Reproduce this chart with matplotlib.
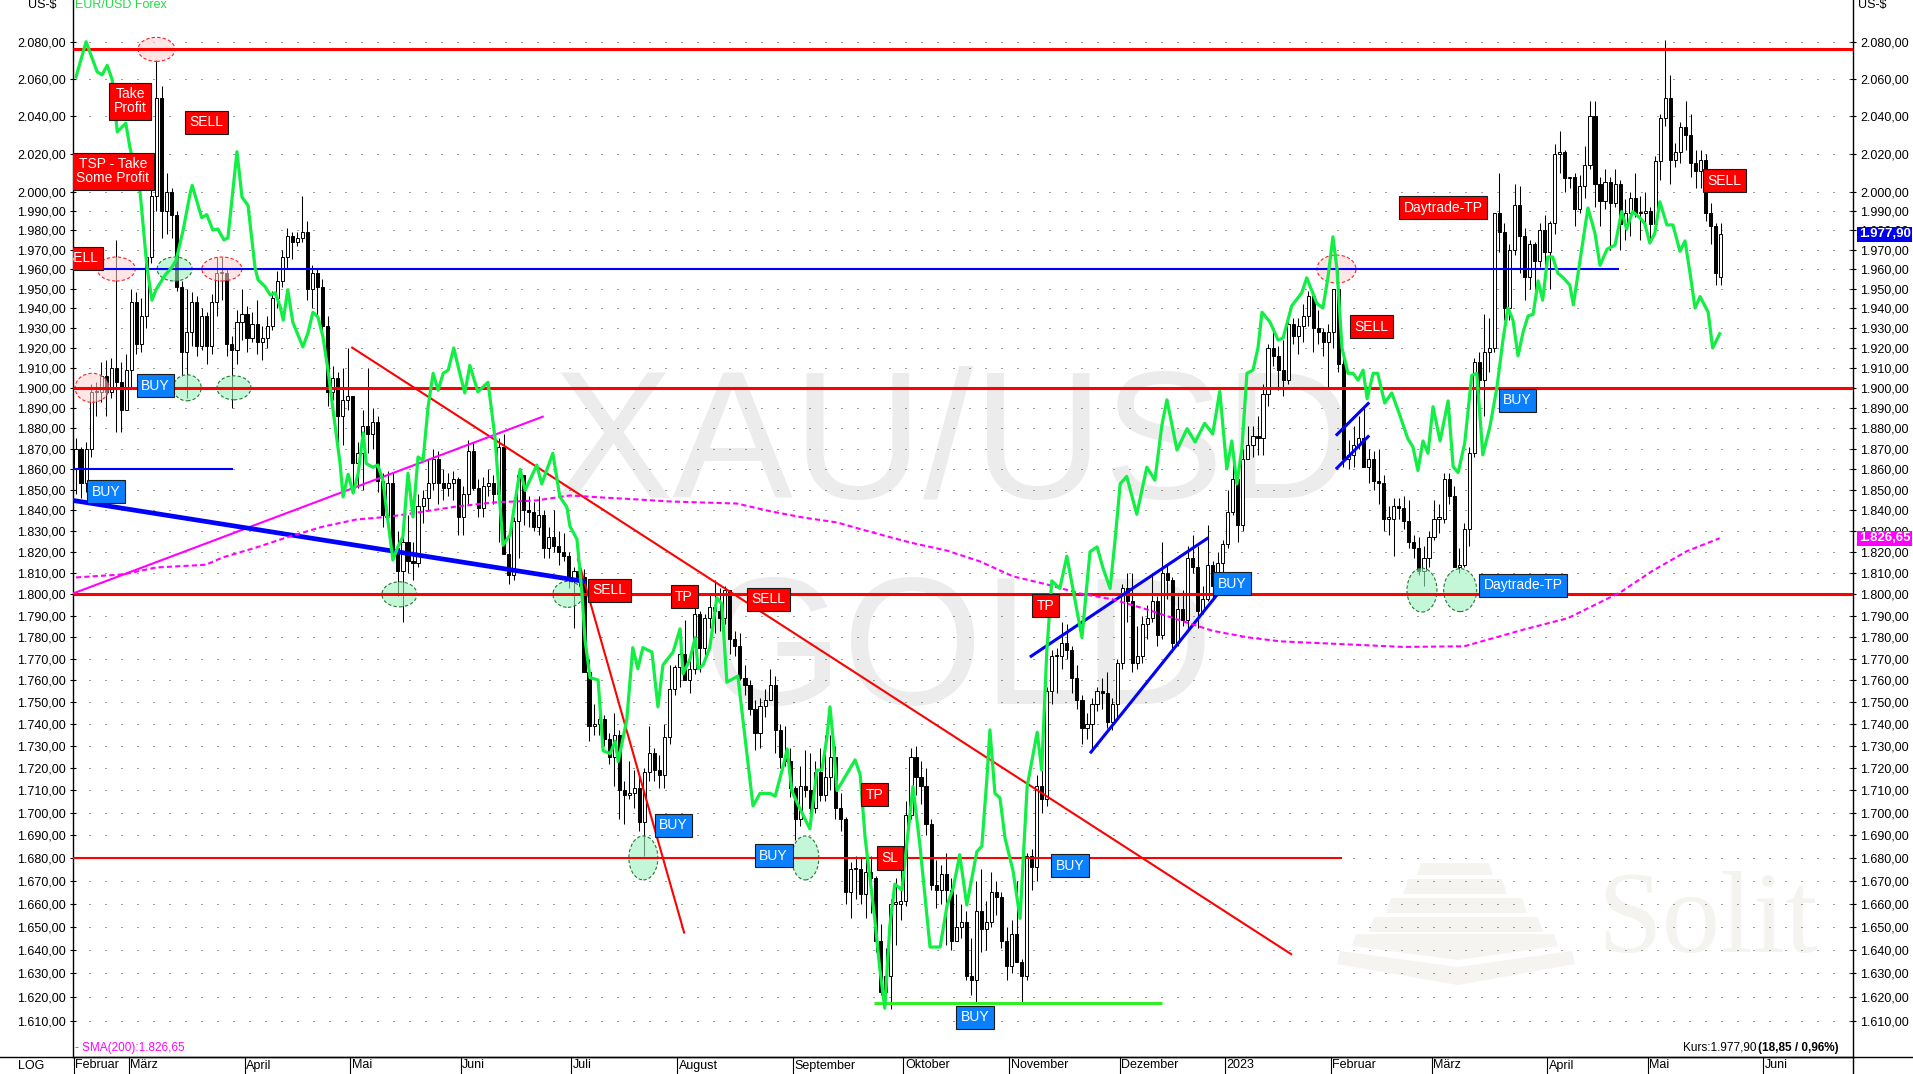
import matplotlib
matplotlib.use("Agg")
import matplotlib.pyplot as plt
import pandas as pd
from matplotlib.patches import Ellipse, Polygon
from matplotlib.lines import Line2D
from matplotlib.transforms import ScaledTranslation, blended_transform_factory

plt.rcParams['font.family'] = ['Liberation Sans', 'DejaVu Sans']

# --- gold daily OHLC, 14 Feb 2022 .. 19 May 2023 (one row per month) ---
gold_open = [
    1860, 1870, 1853, 1870, 1898, 1898, 1906, 1898, 1910, 1903, 1889,
    1909, 1943, 1922, 1936, 1966, 1998, 2050, 1990, 2000, 1988, 1951, 1918, 1928, 1943, 1921, 1936, 1921, 1943, 1958, 1958, 1922, 1919, 1933,
    1937, 1925, 1932, 1923, 1925, 1931, 1945, 1954, 1966, 1977, 1974, 1976, 1979, 1950, 1958, 1951, 1931, 1898, 1905, 1886, 1894,
    1896, 1863, 1868, 1881, 1877, 1883, 1854, 1838, 1853, 1822, 1811, 1825, 1816, 1815, 1842, 1846, 1853, 1865, 1853, 1851, 1853, 1855,
    1837, 1848, 1869, 1851, 1841, 1852, 1853, 1848, 1871, 1819, 1809, 1835, 1857, 1840, 1839, 1832, 1838, 1822, 1827, 1823, 1820, 1818,
    1807, 1811, 1808, 1764, 1739, 1740, 1742, 1733, 1725, 1735, 1710, 1708, 1709, 1711, 1696, 1718, 1727, 1719, 1717, 1734, 1756,
    1766, 1772, 1760, 1765, 1791, 1775, 1789, 1794, 1792, 1789, 1802, 1779, 1776, 1761, 1758, 1747, 1736, 1748, 1751, 1758, 1737, 1725, 1723,
    1711, 1697, 1712, 1710, 1702, 1718, 1708, 1716, 1725, 1702, 1697, 1665, 1675, 1675, 1664, 1674, 1671, 1644, 1622, 1629, 1660, 1660,
    1661, 1699, 1725, 1716, 1712, 1695, 1668, 1666, 1673, 1666, 1644, 1650, 1652, 1629, 1627, 1657, 1649, 1652, 1665, 1663, 1644,
    1633, 1647, 1635, 1629, 1681, 1676, 1712, 1706, 1755, 1771, 1771, 1777, 1774, 1761, 1751, 1738, 1740, 1749, 1755, 1754, 1741, 1749,
    1768, 1803, 1797, 1768, 1771, 1786, 1789, 1797, 1781, 1810, 1807, 1777, 1793, 1788, 1817, 1813, 1792, 1798, 1814, 1804, 1815,
    1824, 1839, 1855, 1833, 1865, 1872, 1876, 1875, 1897, 1920, 1916, 1909, 1904, 1932, 1926, 1931, 1936, 1946, 1930, 1928, 1923,
    1928, 1950, 1912, 1865, 1867, 1872, 1875, 1861, 1865, 1854, 1853, 1836, 1836, 1842, 1841, 1835, 1825, 1822, 1811, 1817,
    1827, 1836, 1836, 1855, 1847, 1813, 1814, 1831, 1868, 1913, 1904, 1918, 1920, 1989, 1979, 1940, 1970, 1993, 1977, 1956, 1973, 1964, 1980,
    1969, 1984, 2020, 2021, 2007, 2008, 1991, 2003, 2014, 2040, 2004, 1995, 2005, 1994, 2004, 1983, 1989, 1997, 1989, 1989,
    1990, 1983, 2016, 2039, 2050, 2017, 2021, 2034, 2030, 2015, 2011, 2017, 1989, 1982, 1956,
]
gold_high = [
    1875, 1871, 1873, 1902, 1903, 1913, 1914, 1915, 1975, 1913, 1917,
    1950, 1948, 1945, 1970, 2001, 2070, 2056, 2010, 2002, 1990, 1954, 1950, 1948, 1946, 1940, 1938, 1947, 1966, 1966, 1960, 1926, 1939, 1950,
    1941, 1938, 1944, 1931, 1936, 1949, 1959, 1970, 1981, 1979, 1979, 1998, 1985, 1962, 1960, 1955, 1936, 1911, 1908, 1910, 1920,
    1896, 1873, 1889, 1910, 1890, 1886, 1858, 1859, 1858, 1830, 1828, 1838, 1825, 1848, 1850, 1865, 1870, 1869, 1860, 1858, 1859, 1856,
    1852, 1874, 1873, 1855, 1856, 1860, 1857, 1875, 1877, 1830, 1837, 1857, 1857, 1847, 1844, 1847, 1840, 1832, 1840, 1830, 1829, 1820,
    1813, 1815, 1812, 1770, 1749, 1752, 1744, 1736, 1745, 1737, 1714, 1723, 1719, 1716, 1720, 1739, 1729, 1726, 1740, 1767, 1767,
    1774, 1788, 1769, 1795, 1792, 1791, 1800, 1807, 1803, 1804, 1802, 1783, 1782, 1767, 1760, 1751, 1752, 1756, 1765, 1762, 1740, 1739, 1729,
    1712, 1721, 1728, 1727, 1723, 1729, 1735, 1735, 1730, 1709, 1698, 1678, 1681, 1680, 1688, 1681, 1672, 1651, 1641, 1662, 1671, 1676,
    1705, 1729, 1730, 1723, 1720, 1697, 1679, 1677, 1682, 1671, 1664, 1660, 1657, 1645, 1670, 1675, 1661, 1674, 1670, 1665, 1650,
    1653, 1670, 1636, 1682, 1684, 1717, 1722, 1757, 1774, 1775, 1787, 1786, 1776, 1767, 1753, 1745, 1752, 1757, 1761, 1764, 1752, 1770,
    1805, 1810, 1810, 1785, 1790, 1795, 1810, 1799, 1825, 1814, 1808, 1799, 1802, 1823, 1828, 1823, 1804, 1833, 1816, 1820, 1826,
    1850, 1865, 1859, 1870, 1881, 1881, 1886, 1902, 1922, 1929, 1921, 1924, 1935, 1935, 1935, 1942, 1949, 1949, 1939, 1930, 1932,
    1950, 1960, 1918, 1874, 1881, 1886, 1890, 1870, 1869, 1870, 1857, 1842, 1846, 1846, 1847, 1845, 1828, 1827, 1823, 1830,
    1845, 1843, 1858, 1858, 1852, 1822, 1834, 1871, 1915, 1918, 1937, 1935, 1989, 2010, 1984, 1973, 2004, 2003, 1981, 1975, 1974, 1984, 1988,
    1985, 2025, 2032, 2022, 2008, 2010, 2009, 2024, 2048, 2048, 2008, 2012, 2008, 2012, 2006, 1996, 2000, 2010, 1998, 2000,
    1992, 2019, 2041, 2081, 2062, 2026, 2037, 2048, 2041, 2022, 2022, 2020, 1994, 1984, 1984,
]
gold_low = [
    1848, 1846, 1849, 1866, 1886, 1893, 1886, 1895, 1878, 1878, 1889,
    1900, 1917, 1918, 1930, 1963, 1990, 1976, 1978, 1976, 1949, 1906, 1895, 1921, 1916, 1919, 1912, 1917, 1936, 1944, 1916, 1890, 1912, 1924,
    1918, 1923, 1917, 1914, 1920, 1929, 1940, 1951, 1960, 1965, 1972, 1974, 1944, 1940, 1935, 1929, 1891, 1894, 1872, 1872, 1889,
    1850, 1851, 1850, 1868, 1870, 1849, 1832, 1836, 1821, 1799, 1787, 1810, 1807, 1813, 1834, 1840, 1850, 1843, 1845, 1847, 1845, 1828,
    1828, 1843, 1850, 1837, 1837, 1847, 1843, 1825, 1821, 1805, 1807, 1817, 1833, 1832, 1830, 1828, 1817, 1817, 1820, 1814, 1816, 1803,
    1784, 1804, 1764, 1732, 1735, 1735, 1730, 1722, 1712, 1697, 1695, 1706, 1702, 1692, 1681, 1714, 1714, 1711, 1711, 1731, 1753,
    1757, 1760, 1754, 1763, 1764, 1770, 1784, 1782, 1783, 1786, 1772, 1771, 1760, 1753, 1744, 1728, 1729, 1743, 1751, 1727, 1720, 1721, 1707,
    1688, 1694, 1707, 1698, 1700, 1705, 1705, 1710, 1697, 1692, 1660, 1654, 1662, 1660, 1654, 1656, 1639, 1621, 1620, 1615, 1642, 1653,
    1659, 1697, 1708, 1704, 1690, 1666, 1658, 1660, 1642, 1640, 1644, 1645, 1627, 1621, 1617, 1639, 1640, 1650, 1655, 1641, 1627,
    1630, 1635, 1617, 1627, 1666, 1670, 1700, 1703, 1749, 1754, 1765, 1770, 1754, 1747, 1731, 1733, 1729, 1746, 1747, 1738, 1737, 1742,
    1765, 1787, 1764, 1765, 1768, 1779, 1787, 1776, 1779, 1798, 1773, 1776, 1785, 1783, 1810, 1784, 1791, 1797, 1798, 1803, 1808,
    1822, 1838, 1825, 1830, 1865, 1866, 1867, 1867, 1891, 1911, 1899, 1896, 1902, 1922, 1917, 1923, 1931, 1918, 1922, 1916, 1900,
    1920, 1908, 1861, 1860, 1861, 1870, 1861, 1853, 1850, 1843, 1830, 1828, 1818, 1836, 1831, 1822, 1817, 1809, 1804, 1813,
    1826, 1829, 1834, 1843, 1813, 1810, 1813, 1823, 1866, 1896, 1886, 1908, 1918, 1969, 1934, 1934, 1967, 1958, 1944, 1950, 1949, 1961, 1959,
    1950, 1978, 2010, 2000, 2002, 1982, 1989, 1997, 2012, 1992, 1982, 1991, 1970, 1992, 1970, 1975, 1977, 1987, 1975, 1983,
    1975, 1979, 2006, 2035, 2004, 2013, 2015, 2022, 2008, 2002, 2002, 1985, 1973, 1952, 1952,
]
gold_close = [
    1870, 1853, 1870, 1898, 1898, 1906, 1898, 1910, 1903, 1889, 1909,
    1943, 1922, 1936, 1966, 1998, 2050, 1990, 2000, 1988, 1951, 1918, 1928, 1943, 1921, 1936, 1921, 1943, 1958, 1958, 1922, 1919, 1933, 1937,
    1925, 1932, 1923, 1925, 1931, 1945, 1954, 1966, 1977, 1974, 1976, 1979, 1950, 1958, 1951, 1931, 1898, 1905, 1886, 1894, 1896,
    1863, 1868, 1881, 1877, 1883, 1854, 1838, 1853, 1822, 1811, 1825, 1816, 1815, 1842, 1846, 1853, 1865, 1853, 1851, 1853, 1855, 1837,
    1848, 1869, 1851, 1841, 1852, 1853, 1848, 1871, 1819, 1809, 1835, 1857, 1840, 1839, 1832, 1838, 1822, 1827, 1823, 1820, 1818, 1807,
    1811, 1808, 1764, 1739, 1740, 1742, 1733, 1725, 1735, 1710, 1708, 1709, 1711, 1696, 1718, 1727, 1719, 1717, 1734, 1756, 1766,
    1772, 1760, 1765, 1791, 1775, 1789, 1794, 1792, 1789, 1802, 1779, 1776, 1761, 1758, 1747, 1736, 1748, 1751, 1758, 1737, 1725, 1723, 1711,
    1697, 1712, 1710, 1702, 1718, 1708, 1716, 1725, 1702, 1697, 1665, 1675, 1675, 1664, 1674, 1671, 1644, 1622, 1629, 1660, 1660, 1661,
    1699, 1725, 1716, 1712, 1695, 1668, 1666, 1673, 1666, 1644, 1650, 1652, 1629, 1627, 1657, 1649, 1652, 1665, 1663, 1644, 1633,
    1647, 1635, 1629, 1681, 1676, 1712, 1706, 1755, 1771, 1771, 1777, 1774, 1761, 1751, 1738, 1740, 1749, 1755, 1754, 1741, 1749, 1768,
    1803, 1797, 1768, 1771, 1786, 1789, 1797, 1781, 1810, 1807, 1777, 1793, 1788, 1817, 1813, 1792, 1798, 1814, 1804, 1815, 1824,
    1839, 1855, 1833, 1865, 1872, 1876, 1875, 1897, 1920, 1916, 1909, 1904, 1932, 1926, 1931, 1936, 1946, 1930, 1928, 1923, 1928,
    1950, 1912, 1865, 1867, 1872, 1875, 1861, 1865, 1854, 1853, 1836, 1836, 1842, 1841, 1835, 1825, 1822, 1811, 1817, 1827,
    1836, 1836, 1855, 1847, 1813, 1814, 1831, 1868, 1913, 1904, 1918, 1920, 1989, 1979, 1940, 1970, 1993, 1977, 1956, 1973, 1964, 1980, 1969,
    1984, 2020, 2021, 2007, 2008, 1991, 2003, 2014, 2040, 2004, 1995, 2005, 1994, 2004, 1983, 1989, 1997, 1989, 1989, 1990,
    1983, 2016, 2039, 2050, 2017, 2021, 2034, 2030, 2015, 2011, 2017, 1989, 1982, 1958, 1977.9,
]

# --- EUR/USD overlay (green): trading-day position, rate ---
eur_x = [
    0.0, 2.0, 4.2, 5.2, 6.2, 7.2, 8.2, 9.9, 10.7, 12.7, 14.1, 15.1, 15.9, 17.7, 19.1, 19.9, 21.3, 22.7, 23.1, 25.0,
    26.0, 27.2, 28.2, 29.4, 30.2, 32.0, 33.0, 34.2, 35.6, 36.2, 37.6, 38.6, 39.6, 40.6, 41.2, 42.1, 43.1, 45.1, 46.1, 47.1,
    48.1, 49.1, 50.1, 51.1, 52.5, 53.1, 54.1, 55.1, 56.1, 57.1, 57.7, 59.0, 60.0, 61.0, 63.0, 64.0, 65.0, 66.0, 67.0, 68.0,
    69.0, 70.0, 71.0, 72.0, 73.0, 74.0, 75.1, 76.3, 77.3, 78.3, 79.9, 81.9, 82.5, 83.3, 84.9, 86.3, 87.3, 88.3, 89.3, 91.6,
    92.6, 94.8, 96.2, 97.6, 98.2, 99.6, 100.6, 101.2, 102.2, 103.8, 104.8, 106.2, 107.2, 107.8, 109.5, 110.7, 111.7, 112.7, 114.5, 115.7,
    116.7, 118.7, 120.1, 120.7, 122.1, 123.1, 123.7, 124.7, 126.0, 127.4, 128.4, 129.4, 131.6, 132.6, 134.6, 136.0, 138.0, 139.0, 140.4, 141.4,
    142.3, 143.5, 145.9, 147.3, 148.3, 149.3, 149.9, 150.5, 151.3, 154.9, 155.9, 156.9, 157.9, 158.8, 159.8, 160.8, 161.8, 162.8, 164.2, 165.4,
    166.4, 167.8, 169.8, 171.8, 173.2, 174.4, 175.7, 177.1, 179.1, 180.1, 181.1, 181.7, 182.7, 183.7, 184.7, 186.3, 187.7, 189.1, 191.1, 192.0,
    193.0, 194.0, 195.6, 197.0, 198.2, 200.0, 201.6, 203.0, 204.2, 205.6, 206.6, 207.6, 208.9, 210.9, 212.9, 214.5, 215.9, 216.9, 218.9, 220.9,
    222.5, 224.4, 226.0, 227.4, 228.8, 229.8, 230.8, 231.8, 232.8, 234.0, 235.0, 235.8, 237.4, 239.0, 240.0, 241.7, 243.7, 244.7, 246.7, 247.9,
    248.9, 249.9, 250.7, 251.7, 252.9, 253.9, 254.9, 255.9, 256.7, 257.9, 258.8, 260.2, 261.6, 263.2, 264.8, 265.8, 266.8, 267.8, 268.8, 269.8,
    271.2, 272.8, 273.8, 274.8, 276.1, 277.5, 278.5, 279.7, 281.1, 282.5, 283.7, 284.7, 285.7, 286.7, 287.7, 288.7, 289.7, 290.7, 291.6, 292.6,
    293.6, 294.6, 295.6, 297.0, 297.7, 299.0, 300.6, 302.0, 303.0, 304.4, 306.0, 307.3, 308.3, 309.5, 310.9, 311.9, 312.9, 313.9, 314.9, 316.3,
    317.5, 318.9, 319.9, 320.9, 321.9, 322.9, 324.5, 325.4, 326.8,
]
eur_v = [
    1.1304, 1.1374, 1.1314, 1.1308, 1.1327, 1.1298, 1.1195, 1.1212, 1.1165, 1.1081, 1.0932, 1.0868, 1.0888, 1.0916, 1.0932, 1.0945, 1.1003, 1.1075, 1.1090, 1.1027,
    1.1033, 1.1003, 1.1005, 1.0984, 1.0988, 1.1156, 1.1067, 1.1051, 1.0930, 1.0907, 1.0894, 1.0878, 1.0882, 1.0855, 1.0830, 1.0888, 1.0826, 1.0779, 1.0805, 1.0845,
    1.0836, 1.0798, 1.0735, 1.0660, 1.0560, 1.0498, 1.0540, 1.0505, 1.0542, 1.0617, 1.0560, 1.0553, 1.0557, 1.0529, 1.0382, 1.0406, 1.0425, 1.0542, 1.0461, 1.0572,
    1.0566, 1.0666, 1.0729, 1.0697, 1.0729, 1.0735, 1.0777, 1.0729, 1.0692, 1.0744, 1.0694, 1.0712, 1.0669, 1.0608, 1.0409, 1.0428, 1.0490, 1.0549, 1.0510, 1.0557,
    1.0522, 1.0579, 1.0498, 1.0479, 1.0444, 1.0420, 1.0321, 1.0237, 1.0169, 1.0165, 1.0039, 1.0034, 1.0056, 1.0020, 1.0094, 1.0223, 1.0185, 1.0223, 1.0215, 1.0117,
    1.0192, 1.0215, 1.0257, 1.0176, 1.0203, 1.0241, 1.0185, 1.0192, 1.0223, 1.0313, 1.0302, 1.0161, 1.0172, 1.0094, 0.9942, 0.9964, 0.9964, 0.9959, 1.0005, 1.0042,
    0.9969, 0.9945, 0.9902, 1.0005, 1.0005, 1.0063, 1.0117, 1.0063, 0.9969, 1.0023, 0.9997, 0.9886, 0.9813, 0.9747, 0.9662, 0.9594, 0.9734, 0.9806, 0.9796, 0.9893,
    0.9976, 0.9872, 0.9698, 0.9698, 0.9770, 0.9799, 0.9857, 0.9770, 0.9862, 0.9872, 0.9990, 1.0076, 0.9964, 0.9956, 0.9886, 0.9829, 0.9747, 0.9976, 1.0072, 1.0005,
    1.0215, 1.0344, 1.0330, 1.0389, 1.0330, 1.0241, 1.0397, 1.0406, 1.0367, 1.0330, 1.0420, 1.0522, 1.0536, 1.0466, 1.0553, 1.0529, 1.0632, 1.0679, 1.0585, 1.0625,
    1.0600, 1.0635, 1.0615, 1.0695, 1.0550, 1.0602, 1.0522, 1.0587, 1.0729, 1.0735, 1.0777, 1.0845, 1.0826, 1.0792, 1.0796, 1.0857, 1.0882, 1.0911, 1.0862, 1.0853,
    1.0911, 1.0990, 1.0928, 1.0777, 1.0729, 1.0729, 1.0716, 1.0735, 1.0681, 1.0729, 1.0729, 1.0673, 1.0692, 1.0650, 1.0606, 1.0591, 1.0547, 1.0602, 1.0579, 1.0666,
    1.0602, 1.0677, 1.0554, 1.0543, 1.0598, 1.0725, 1.0729, 1.0576, 1.0628, 1.0702, 1.0792, 1.0853, 1.0830, 1.0762, 1.0807, 1.0838, 1.0841, 1.0905, 1.0868, 1.0951,
    1.0951, 1.0920, 1.0912, 1.0897, 1.0859, 1.0943, 1.1046, 1.0997, 1.0935, 1.0966, 1.0974, 1.1039, 1.1005, 1.1039, 1.1027, 1.1016, 1.0978, 1.0997, 1.1058, 1.1013,
    1.1013, 1.0962, 1.0982, 1.0920, 1.0853, 1.0875, 1.0845, 1.0777, 1.0804,
]

# --- SMA(200) of gold ---
sma_x = [0, 9.3, 15.9, 25.8, 29.2, 35.8, 42.5, 49.1, 55.7, 62.4, 69.0, 75.5, 82.9, 91.6, 98.2, 104.8, 111.5, 118.1,
         124.7, 131.4, 138.0, 144.5, 151.3, 157.9, 165.8, 173.2, 179.7, 186.3, 193.0, 199.6, 206.2, 212.9, 219.5,
         226.0, 232.8, 239.4, 251.7, 263.8, 276.0, 288.0, 296.6, 307.0, 313.5, 320.3, 326.8]
sma_v = [1808.0, 1809.4, 1812.7, 1814.0, 1817.5, 1822.2, 1827.5, 1832.2, 1835.6, 1837.0, 1839.4, 1841.8, 1843.8,
         1844.8, 1847.2, 1846.2, 1845.3, 1844.3, 1843.8, 1843.3, 1839.6, 1836.6, 1834.2, 1829.7, 1824.6, 1820.7,
         1815.6, 1808.5, 1804.7, 1800.4, 1797.6, 1792.9, 1787.8, 1782.9, 1779.9, 1778.0, 1776.7, 1775.4, 1775.7,
         1783.6, 1788.8, 1800.9, 1811.2, 1820.5, 1826.65]

# horizontal levels: price, from, to
level_p = [2076, 1900, 1800, 1680, 1960, 1860, 1617.3]
level_from = [-0.6, -0.6, -0.6, -0.6, -0.6, -0.6, 158.6]
level_to = [353.3, 353.3, 353.3, 251.7, 306.8, 31.2, 215.9]

# trend lines: (x0, p0, x1, p1)
trend_lines = [
    (54.9, 1920.1, 241.6, 1638.2),
    (99.8, 1816.6, 120.9, 1647.5),
    (-0.6, 1800.4, 92.8, 1885.7),
    (-0.6, 1844.8, 100.8, 1806.2),
    (189.9, 1771.1, 224.9, 1826.5),
    (201.8, 1727.2, 227.0, 1800.2),
    (250.7, 1876.9, 256.9, 1892.2),
    (250.7, 1860.5, 256.9, 1875.9),
]

# signal boxes
box_text = ["Take\nProfit", "SELL", "TSP - Take\nSome Profit", "SELL", "BUY", "BUY", "SELL", "TP", "SELL",
            "BUY", "BUY", "TP", "SL", "TP", "BUY", "BUY", "BUY", "Daytrade-TP", "SELL", "BUY", "Daytrade-TP", "SELL"]
box_x = [10.8, 26.0, 7.3, 1.0, 15.8, 5.9, 106.0, 120.9, 137.7, 118.8, 138.7, 158.7, 161.8, 192.7, 197.7, 178.7,
         229.8, 271.8, 257.6, 286.6, 287.7, 327.8]
box_p = [2047.9, 2036.7, 2010.7, 1965.5, 1901.0, 1849.0, 1802.0, 1798.8, 1797.6, 1694.4, 1681.0, 1708.0, 1680.0,
         1794.6, 1676.6, 1611.3, 1805.0, 1991.8, 1930.6, 1893.8, 1804.3, 2005.8]
box_side = ["s", "s", "s", "s", "b", "b", "s", "s", "s", "b", "b", "s", "s", "s", "b", "b", "b", "s", "s", "b", "b", "s"]

# zone circles: position, price, kind (p = pink, g = green)
zone_x = [16.0, 8.0, 29.0, 3.2, 250.6, 19.6, 22.1, 31.4, 64.3, 97.8, 112.8, 145.0, 267.6, 275.2]
zone_p = [2076, 1960, 1960, 1900, 1960, 1960, 1900, 1900, 1800, 1800, 1680, 1680, 1802, 1802]
zone_kind = ["p", "p", "p", "p", "p", "g", "g", "g", "g", "g", "g", "g", "g", "g"]

ytick_vals = [2080, 2060, 2040, 2020, 2000, 1990, 1980, 1970, 1960, 1950, 1940, 1930, 1920, 1910, 1900, 1890,
              1880, 1870, 1860, 1850, 1840, 1830, 1820, 1810, 1800, 1790, 1780, 1770, 1760, 1750, 1740, 1730,
              1720, 1710, 1700, 1690, 1680, 1670, 1660, 1650, 1640, 1630, 1620, 1610]
month_labels = ["Februar", "März", "April", "Mai", "Juni", "Juli", "August", "September", "Oktober",
                "November", "Dezember", "2023", "Februar", "März", "April", "Mai", "Juni"]

# trading days (no bars on 26 Dec and 2 Jan)
days = pd.bdate_range("2022-02-14", "2023-06-30")
days = days.drop([pd.Timestamp("2022-12-26"), pd.Timestamp("2023-01-02")])
month_starts = [i for i in range(len(days)) if i == 0 or days[i].month != days[i - 1].month]

W, H = 1913, 1074
fig = plt.figure(figsize=(W / 100, H / 100), dpi=100)
ax = fig.add_axes([73 / W, 17 / H, 1780 / W, 1057 / H])
ax2 = ax.twinx()
ax.set_yscale("log")
ax2.set_yscale("log")

# watermark
ax.text(954 / W, 1 - 498 / H, "XAU/USD", transform=fig.transFigure, ha="center", va="baseline",
        fontsize=130, color="#ececec", zorder=0.1)
ax.text(958 / W, 1 - 704 / H, "GOLD", transform=fig.transFigure, ha="center", va="baseline",
        fontsize=130, color="#ececec", zorder=0.1)
# Solit logo
ax.text(1597 / W, 1 - 952 / H, "Solit", transform=fig.transFigure, ha="left", va="baseline",
        fontsize=84, family="Liberation Serif", color="#f4f3ef", zorder=0.1)
logo = [
    [(1417, 875), (1421, 863), (1489, 863), (1493, 875)],
    [(1403, 894), (1408, 879), (1502, 879), (1507, 894)],
    [(1386, 913), (1391, 898), (1522, 898), (1527, 913)],
    [(1369, 932), (1374, 917), (1538, 917), (1543, 932)],
    [(1352, 946), (1356, 934), (1554, 934), (1558, 946), (1458, 960)],
    [(1337, 964), (1340, 951), (1458, 967), (1572, 951), (1575, 964), (1458, 985)],
]
for poly in logo:
    ax.add_artist(Polygon([(x / W, 1 - y / H) for x, y in poly], closed=True, transform=fig.transFigure,
                          facecolor="#f5f4f0", edgecolor="none", zorder=0.2))

# dotted price grid
ax.hlines(ytick_vals, -0.6, 353.3, colors="#404040", linestyles=(0, (1, 15)), lw=0.72, zorder=0.5)

# candles
n = len(gold_close)
pos = list(range(n))
bottoms = [min(o, c) for o, c in zip(gold_open, gold_close)]
heights = [max(abs(c - o), 0.6) for o, c in zip(gold_open, gold_close)]
fills = ["white" if c >= o else "black" for o, c in zip(gold_open, gold_close)]
ax.vlines(pos, gold_low, gold_high, color="black", lw=0.75, zorder=2)
ax.bar(pos, heights, bottom=bottoms, width=0.62, color=fills, edgecolor="black", linewidth=0.7, zorder=2.1)

# zones
zone_size = [(37, 24), (38, 24), (40, 24), (34, 29), (39, 28), (35, 24), (28, 26), (34, 24), (35, 25), (30, 26),
             (29, 44), (27, 44), (30, 44), (33, 43)]
for zx, zp, zk, (zw, zh) in zip(zone_x, zone_p, zone_kind, zone_size):
    tr = fig.dpi_scale_trans + ScaledTranslation(zx, zp, ax.transData)
    if zk == "p":
        fc, ec = (1.0, 0.82, 0.82, 0.55), "#ff2020"
    else:
        fc, ec = (0.62, 0.95, 0.75, 0.6), "#1e7a2a"
    ax.add_artist(Ellipse((0, 0), zw / 100, zh / 100, transform=tr, facecolor=fc, edgecolor=ec,
                          linestyle=(0, (3, 2)), lw=0.8, zorder=2.5))

# levels
level_style = [("#ff0000", 2.2), ("#ff0000", 2.2), ("#ff0000", 2.2), ("#ff0000", 1.5), ("#0000ff", 1.5),
               ("#0000ff", 1.5), ("#33ee22", 2.2)]
for p, x0, x1, (c, lw) in zip(level_p, level_from, level_to, level_style):
    ax.plot([x0, x1], [p, p], color=c, lw=lw, zorder=3, solid_capstyle="butt")

trend_style = [("#ff0000", 1.5), ("#ff0000", 1.5), ("#ff00ff", 1.5), ("#0000ff", 3.4), ("#0000ff", 2.2),
               ("#0000ff", 2.2), ("#0000ff", 2.2), ("#0000ff", 2.2)]
for (x0, p0, x1, p1), (c, lw) in zip(trend_lines, trend_style):
    ax.plot([x0, x1], [p0, p1], color=c, lw=lw, zorder=3)

ax.plot(sma_x, sma_v, color="#ff00ff", lw=1.5, ls=(0, (2.5, 1.5)), zorder=3)

# EUR/USD overlay on its own hidden scale
ax2.plot(eur_x, eur_v, color="#11ee44", lw=2.3, zorder=1, solid_joinstyle="round")

for t, bx, bp, side in zip(box_text, box_x, box_p, box_side):
    fc = "#ff0000" if side == "s" else "#0a80ff"
    ax2.text(bx, bp, t, transform=ax.transData, ha="center", va="center", color="white", fontsize=10,
             linespacing=1.0, zorder=5, clip_on=True,
             bbox=dict(boxstyle="square,pad=0.33", facecolor=fc, edgecolor="#1a1a1a", lw=0.8))

# axes and ticks
ax.set_xlim(-0.6, 353.3)
ax.set_ylim(1594.7, 2103.0)
ax2.set_ylim(0.9512, 1.1458)
ax2.axis("off")
ax.set_yticks(ytick_vals, [f"{v:,.2f}".replace(",", "X").replace(".", ",").replace("X", ".") for v in ytick_vals])
ax.minorticks_off()
ax.set_xticks([])
ax.tick_params(axis="y", which="major", left=True, right=True, labelleft=True, labelright=True,
               direction="inout", length=5, width=0.8, labelsize=9, pad=2.5)
ax.spines["top"].set_visible(False)
for s in ["left", "right", "bottom"]:
    ax.spines[s].set_linewidth(1.0)

# price tags on right axis
ybl = blended_transform_factory(ax.transAxes, ax.transData)
ax2.text(1.0 + 6 / 1780, 1977.9, "1.977,90", transform=ybl, ha="left", va="center", color="white",
         fontsize=9.5, weight="bold", clip_on=False, zorder=6,
         bbox=dict(boxstyle="square,pad=0.12", facecolor="#0000ee", edgecolor="none"))
ax2.text(1.0 + 6 / 1780, 1826.65, "1.826,65", transform=ybl, ha="left", va="center", color="white",
         fontsize=9.5, weight="bold", clip_on=False, zorder=6,
         bbox=dict(boxstyle="square,pad=0.12", facecolor="#ff00ff", edgecolor="none"))

# date strip
xbl = blended_transform_factory(ax.transData, ax.transAxes)
strip = 17 / 1057
for ms, lab in zip(month_starts, month_labels):
    ax.plot([ms - 0.5, ms - 0.5], [-strip, 0], transform=xbl, color="black", lw=0.8, clip_on=False)
    ax.text(ms - 0.5, -strip / 2, lab, transform=xbl + ScaledTranslation(0.015, 0, fig.dpi_scale_trans),
            ha="left", va="center", fontsize=9, clip_on=False)
ax.plot([1, 1], [-strip, 0], transform=ax.transAxes, color="black", lw=1.0, clip_on=False)
fig.add_artist(Line2D([0, 1], [17 / H, 17 / H], color="black", lw=1.0))
fig.text(31 / W, 1 - 1066 / H, "LOG", ha="center", va="center", fontsize=9)

# headers
fig.text(42 / W, 1 - 8 / H, "US-$", ha="center", va="baseline", fontsize=9)
fig.text(75 / W, 1 - 8 / H, "EUR/USD Forex", ha="left", va="baseline", fontsize=9, color="#22dd44")
fig.text(1858 / W, 1 - 8 / H, "US-$", ha="left", va="baseline", fontsize=9)

fig.text(75 / W, 1 - 1048 / H, "- SMA(200):1.826,65", ha="left", va="center", fontsize=8.5, color="#ff00ff")
kb = fig.text(1839 / W, 1 - 1048 / H, "(18,85 / 0,96%)", ha="right", va="center", fontsize=8.5, weight="bold")
fig.canvas.draw()
kw = kb.get_window_extent().width
fig.text((1839 - kw - 2) / W, 1 - 1048 / H, "Kurs:1.977,90", ha="right", va="center", fontsize=8.5)

fig.savefig("out.png", dpi=100)
